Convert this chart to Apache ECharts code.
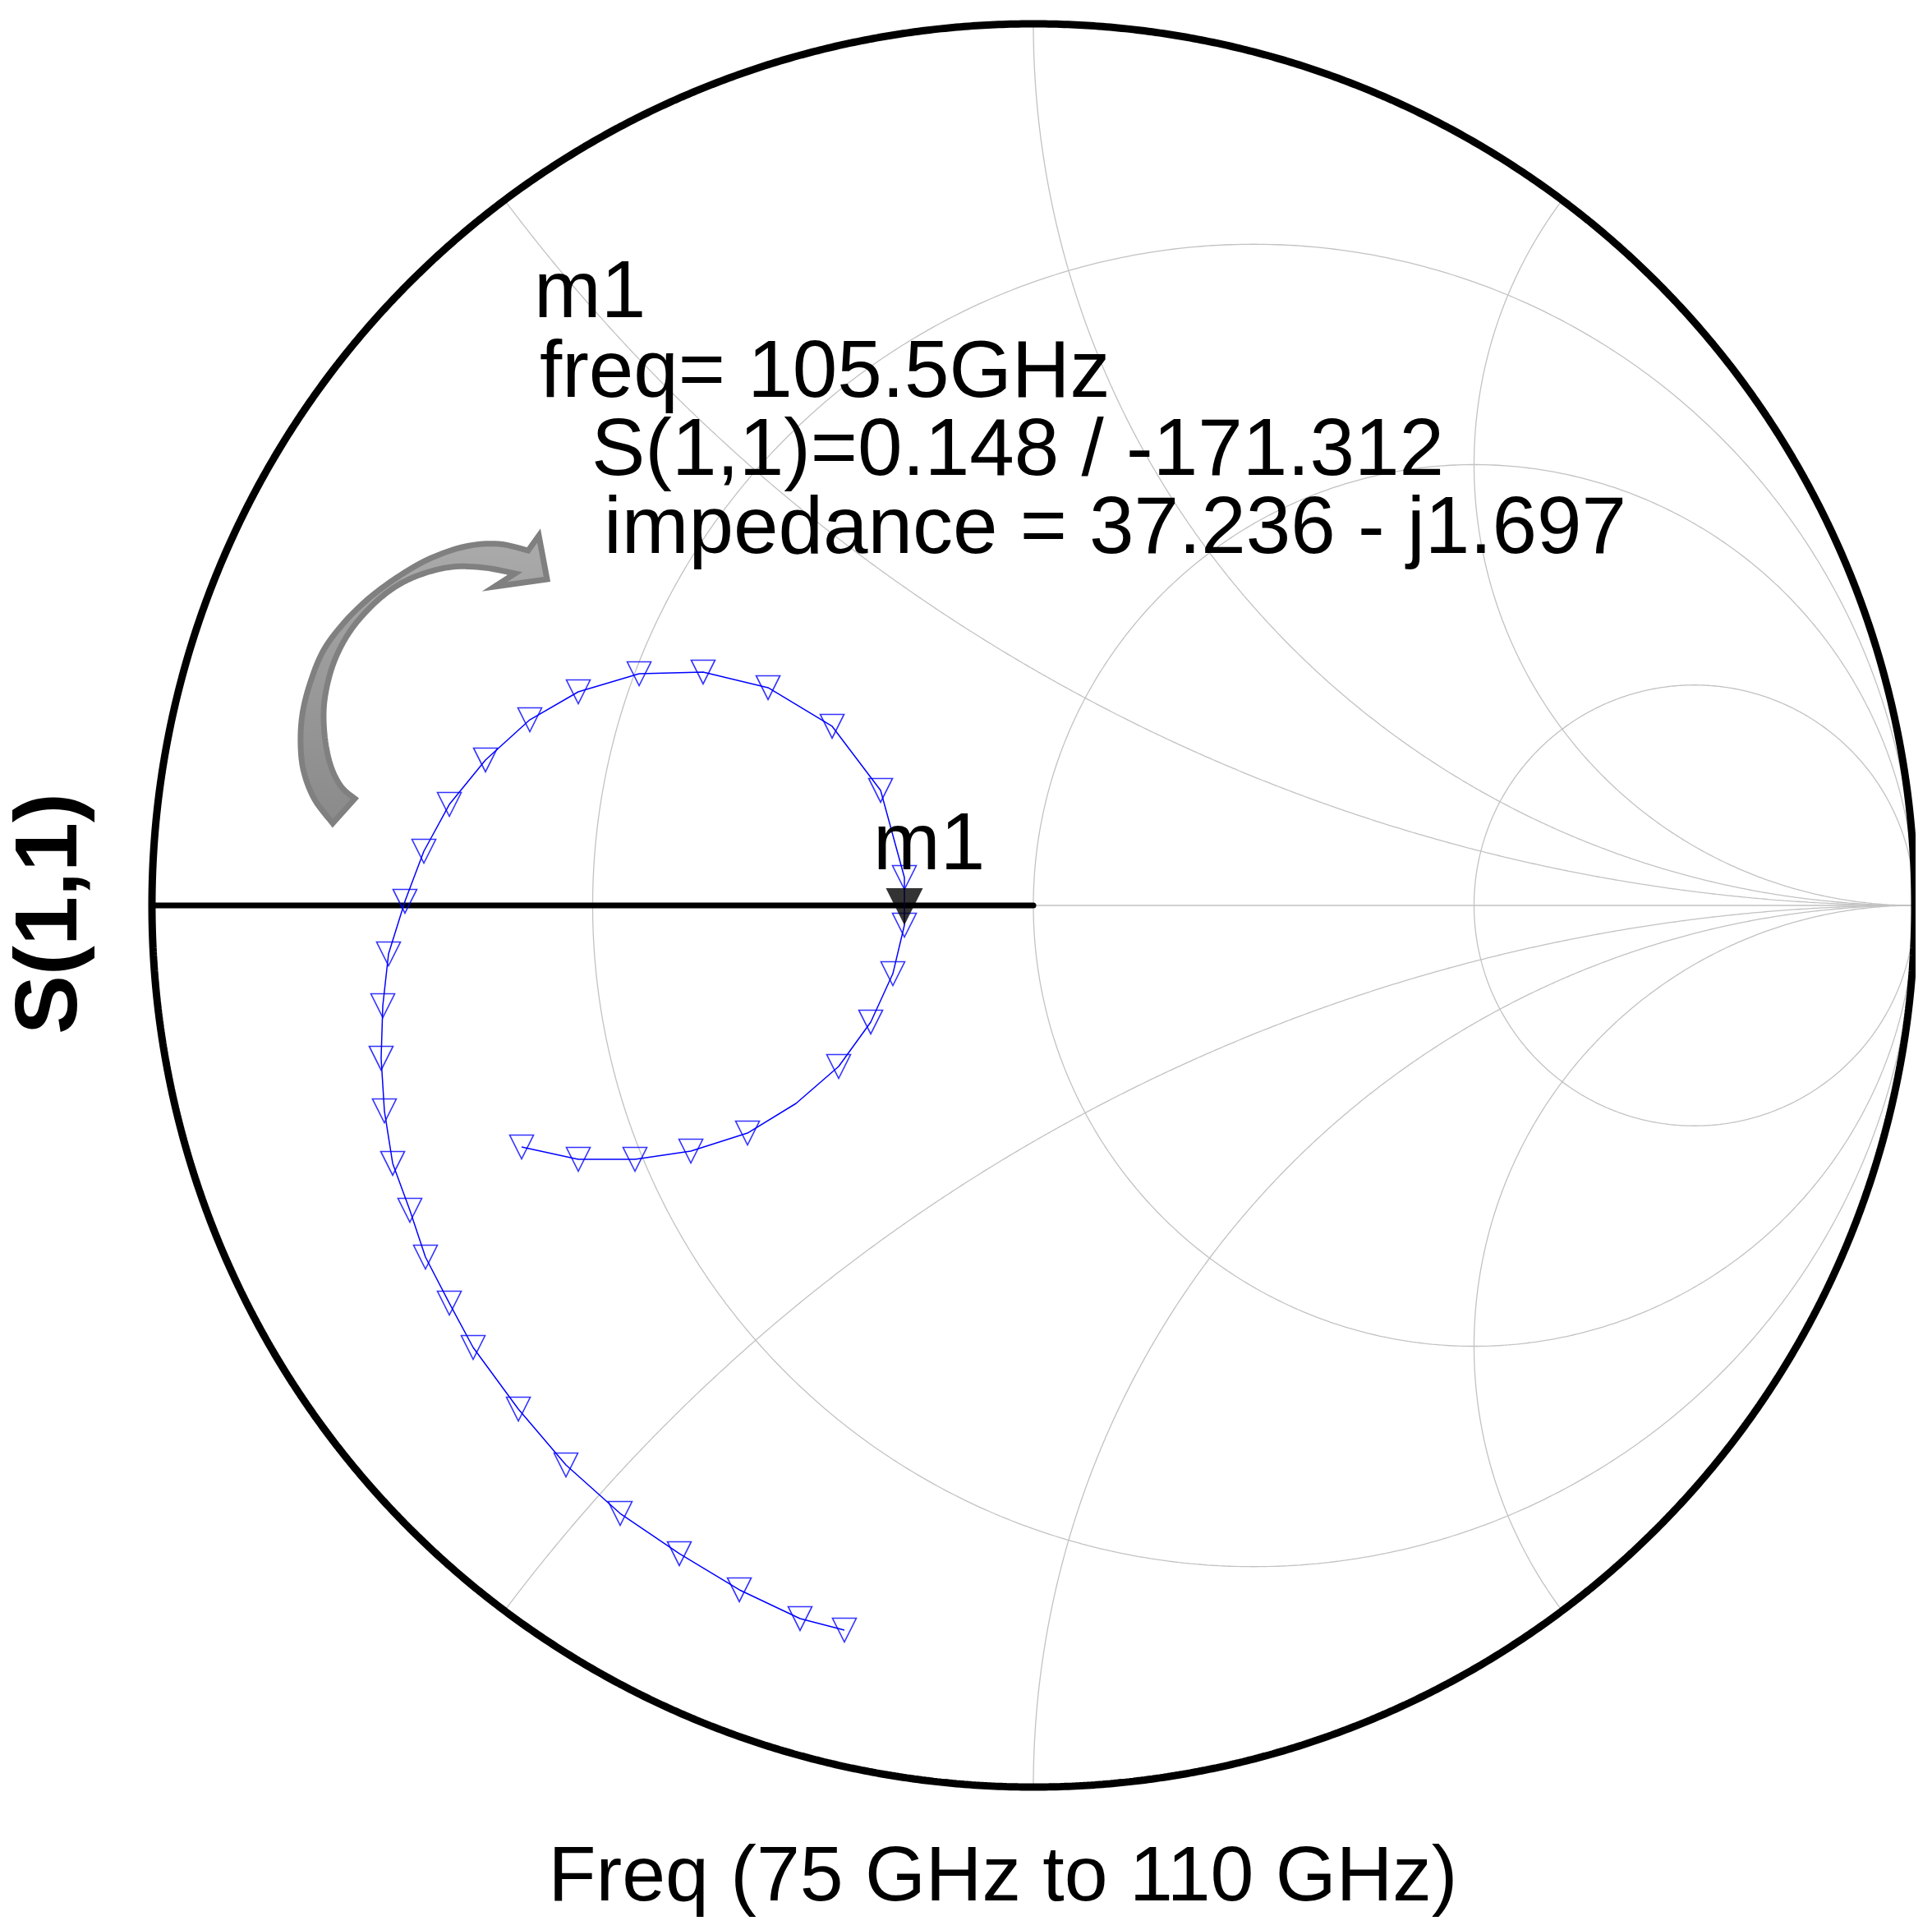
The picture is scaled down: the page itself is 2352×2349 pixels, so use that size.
<!DOCTYPE html>
<html>
<head>
<meta charset="utf-8">
<script src="https://cdn.jsdelivr.net/npm/echarts@6/dist/echarts.min.js"></script>
<style>html,body{margin:0;padding:0;background:#fff}#c{width:2352px;height:2349px}</style>
</head>
<body>
<div id="c"></div>
<script>
// ---- S(1,1) trace, 75 GHz -> 110 GHz, reflection coefficient (real, imaginary) ----
const gammaRe = [-0.2144,-0.2647,-0.3336,-0.4017,-0.4688,-0.5303,-0.5843,-0.6356,-0.6626,-0.6897,
                 -0.7074,-0.7269,-0.7363,-0.7400,-0.7381,-0.7316,-0.7130,-0.6915,-0.6626,-0.6216,
                 -0.5713,-0.5163,-0.4473,-0.3747,-0.3010,-0.2283,-0.1733,-0.1463,-0.1463,-0.1594,
                 -0.1845,-0.2209,-0.2693,-0.3243,-0.3886,-0.4520,-0.5163,-0.5806];
const gammaIm = [-0.8220,-0.8089,-0.7763,-0.7353,-0.6897,-0.6347,-0.5713,-0.5014,-0.4511,-0.3989,
                 -0.3458,-0.2926,-0.2330,-0.1733,-0.1137,-0.0550, 0.0047, 0.0615, 0.1146, 0.1650,
                  0.2106, 0.2423, 0.2628, 0.2647, 0.2470, 0.2032, 0.1305, 0.0317,-0.0224,-0.0774,
                 -0.1323,-0.1827,-0.2246,-0.2582,-0.2787,-0.2880,-0.2880,-0.2740];
const hasMarker = [1,1,1,1,1,1,1,1,1,1, 1,1,1,1,1,1,1,1,1,1, 1,1,1,1,1,1,1,1,1,1, 1,1,0,1,1,1,1,1];

// ---- marker m1 readout ----
const m1Name = 'm1';
const m1Freq = '105.5GHz';
const m1Mag = 0.148;
const m1AngleDeg = -171.312;
const m1ZRe = 37.236;
const m1ZIm = -1.697;

// ---- Smith chart grid ----
const resistanceCircles = [1/3, 1, 3];
const reactanceArcs = [0.5, 1, 2];
const axisTitle = 'Freq (75 GHz to 110 GHz)';
const yTitle = 'S(1,1)';

const FONT = '"Liberation Sans", Arial, Helvetica, sans-serif';
const CX = 1258, CY = 1102, R = 1073;
const GRAY = '#c2c2c2';

function circlePts(cx, cy, r, a0, a1, n) {
  const out = [];
  for (let i = 0; i <= n; i++) {
    const a = a0 + (a1 - a0) * i / n;
    out.push([cx + r * Math.cos(a), cy + r * Math.sin(a)]);
  }
  return out;
}
function lineSeries(data, color, width, z, cap) {
  return { type: 'line', data: data, showSymbol: false, symbol: 'none', silent: true, z: z,
           animation: false, clip: true,
           lineStyle: { color: color, width: width, cap: cap || 'butt' } };
}

const series = [];
resistanceCircles.forEach(r => {
  series.push(lineSeries(circlePts(r / (1 + r), 0, 1 / (1 + r), 0, 2 * Math.PI, 720), GRAY, 1.3, 1));
});
reactanceArcs.forEach(x => {
  const rad = 1 / x;
  const px = (x * x - 1) / (x * x + 1), py = 2 * x / (x * x + 1);
  let t0 = Math.atan2(py - rad, px - 1);
  if (t0 < Math.PI / 2) t0 += 2 * Math.PI;
  const upper = circlePts(1, rad, rad, t0, 1.5 * Math.PI, 600);
  series.push(lineSeries(upper, GRAY, 1.3, 1));
  series.push(lineSeries(upper.map(p => [p[0], -p[1]]), GRAY, 1.3, 1));
});
series.push(lineSeries([[0, 0], [1, 0]], GRAY, 1.3, 1));
series.push(lineSeries([[-1, 0], [0, 0]], '#000', 7, 3, 'round'));
series.push(lineSeries(circlePts(0, 0, 1, 0, 2 * Math.PI, 1440), '#000', 9, 3));

const trace = gammaRe.map((v, i) => [v, gammaIm[i]]);
series.push({ type: 'line', data: trace, showSymbol: false, symbol: 'none', z: 5, animation: false,
  lineStyle: { color: '#0000ff', width: 1.5 } });
series.push({ type: 'scatter', data: trace.filter((p, i) => hasMarker[i]), z: 6, animation: false,
  symbol: 'path://M0,0 L20,0 L10,20 Z', symbolSize: [29, 29],
  itemStyle: { color: 'rgba(0,0,0,0)', borderColor: '#0000ff', borderWidth: 1.6 } });
const a = m1AngleDeg * Math.PI / 180;
const m1Point = [m1Mag * Math.cos(a), m1Mag * Math.sin(a)];
series.push({ type: 'scatter', data: [m1Point], z: 7, animation: false,
  symbol: 'path://M0,0 L20,0 L10,20 Z', symbolSize: [45, 45], symbolOffset: [0, '-50%'],
  itemStyle: { color: '#000' } });

const chart = echarts.init(document.getElementById('c'), null, { renderer: 'canvas', width: 2352, height: 2349 });
const xMax = (2326 - CX) / R;
chart.setOption({
  backgroundColor: '#fff',
  animation: false,
  grid: { left: CX - 1.02 * R, top: CY - 1.02 * R, width: 2326 - (CX - 1.02 * R), height: 2.04 * R, containLabel: false },
  xAxis: { type: 'value', min: -1.02, max: xMax, show: false },
  yAxis: { type: 'value', min: -1.02, max: 1.02, show: false },
  series: series
});

const p = chart.convertToPixel({ gridIndex: 0 }, m1Point);
const fmtZ = m1ZRe.toFixed(3) + (m1ZIm < 0 ? ' - j' : ' + j') + Math.abs(m1ZIm).toFixed(3);
function txt(s, x, y, size, extra) {
  return Object.assign({ type: 'text', x: x, y: y, z: 100, silent: true,
    style: { text: s, font: size + 'px ' + FONT, fill: '#000', textAlign: 'left', align: 'left',
             textVerticalAlign: 'middle', verticalAlign: 'middle' } }, extra || {});
}
// decorative curved arrow (annotation shape, pixel space)
const arrowOuter = [[405,1002],[383,973],[370,940],[366,907],[368,870],[377,833],[393,793],[417,760],
  [447,730],[483,703],[523,680],[567,665],[607,662],[643,670]];
const arrowHead = [[656,652],[666,705],[602,714]];
const arrowInner = [[627,698],[590,691],[550,690],[510,700],[477,717],[447,743],[423,773],[405,810],
  [395,853],[395,893],[402,930],[415,957],[432,972]];
function crSample(pts) {
  const out = [pts[0]];
  for (let i = 0; i < pts.length - 1; i++) {
    const p0 = pts[Math.max(0, i - 1)], p1 = pts[i], p2 = pts[i + 1], p3 = pts[Math.min(pts.length - 1, i + 2)];
    for (let k = 1; k <= 8; k++) {
      const t = k / 8, t2 = t * t, t3 = t2 * t;
      const f = (c0, c1, c2, c3) => 0.5 * ((2 * c1) + (-c0 + c2) * t + (2 * c0 - 5 * c1 + 4 * c2 - c3) * t2 + (-c0 + 3 * c1 - 3 * c2 + c3) * t3);
      out.push([f(p0[0], p1[0], p2[0], p3[0]), f(p0[1], p1[1], p2[1], p3[1])]);
    }
  }
  return out;
}
const arrowPts = crSample(arrowOuter).concat(arrowHead, crSample(arrowInner));

chart.setOption({
  graphic: [
    { type: 'polygon', z: 50, silent: true, shape: { points: arrowPts },
      style: { fill: { type: 'linear', x: 0, y: 0, x2: 0, y2: 1,
                       colorStops: [{ offset: 0, color: '#ababab' }, { offset: 0.5, color: '#9a9a9a' }, { offset: 1, color: '#8a8a8a' }] },
               stroke: '#808080', lineWidth: 7, lineJoin: 'miter' } },
    txt(m1Name, p[0] - 38, p[1] - 68 - 27, 98),
    txt(m1Name, 650, 359, 98),
    txt('freq= ' + m1Freq, 657, 456, 98),
    txt('S(1,1)=' + m1Mag.toFixed(3) + ' / ' + m1AngleDeg.toFixed(3), 720, 551, 98),
    txt('impedance = ' + fmtZ, 735, 646, 98),
    { type: 'text', x: 1221, y: 2287, z: 100, silent: true,
      style: { text: axisTitle, font: '95px ' + FONT, fill: '#000', textAlign: 'center', align: 'center',
               textVerticalAlign: 'middle', verticalAlign: 'middle' } },
    { type: 'text', x: 63, y: 1112, rotation: Math.PI / 2, z: 100, silent: true,
      style: { text: yTitle, font: 'bold 108px ' + FONT, fill: '#000', textAlign: 'center', align: 'center',
               textVerticalAlign: 'middle', verticalAlign: 'middle' } }
  ]
});
</script>
</body>
</html>
